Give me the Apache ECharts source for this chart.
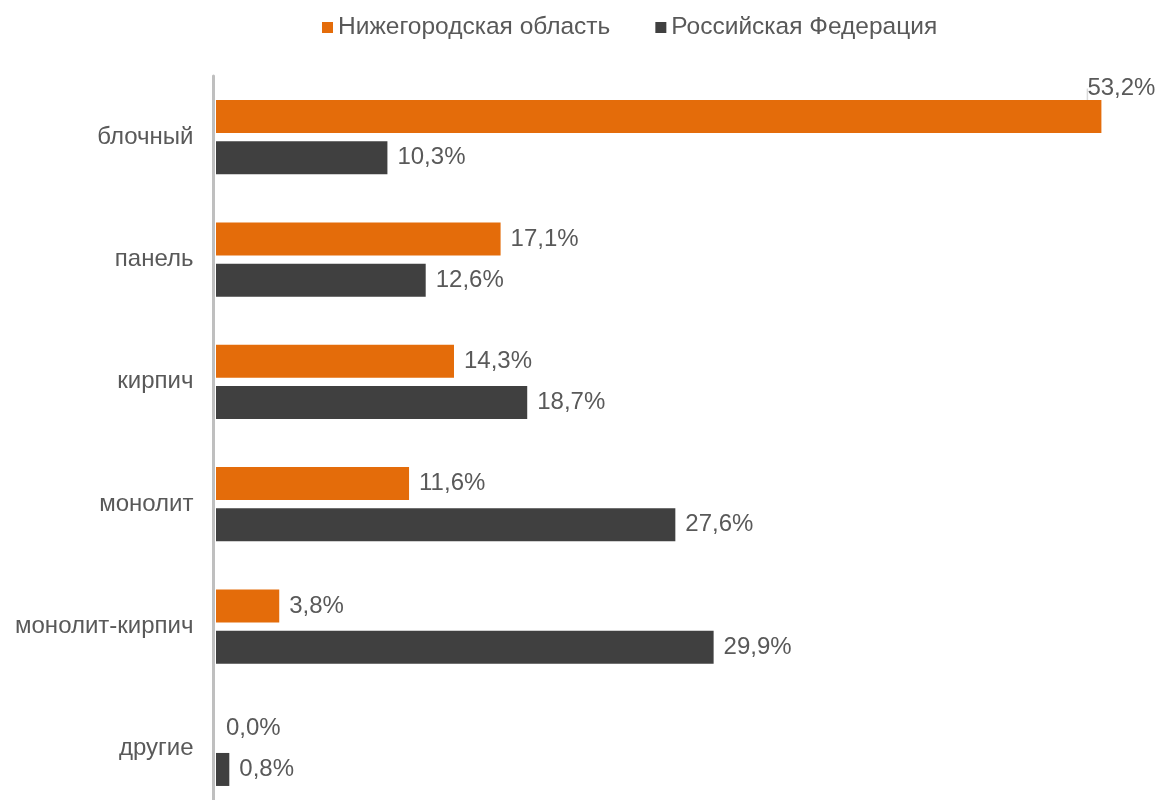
<!DOCTYPE html>
<html>
<head>
<meta charset="utf-8">
<script src="https://cdn.jsdelivr.net/npm/echarts@6/dist/echarts.min.js"></script>
<style>
    html, body { margin: 0; padding: 0; background: #fff; }
    #chart { width: 1159px; height: 800px; }
</style>
</head>
<body>
<div id="chart"></div>
<script>
let categories = ['блочный', 'панель', 'кирпич', 'монолит', 'монолит-кирпич', 'другие']
let regionName = 'Нижегородская область'
let countryName = 'Российская Федерация'
let regionValues = [53.2, 17.1, 14.3, 11.6, 3.8, 0.0]
let countryValues = [10.3, 12.6, 18.7, 27.6, 29.9, 0.8]

let textColor = '#595959'
let fontFamily = '"Liberation Sans", Arial, sans-serif'

function fmt(v) {
    return v.toFixed(1).replace('.', ',') + '%'
}

// только у самого длинного столбца подпись вынесена с выноской
let regionData = regionValues.map((v, i) => ({
    value: v,
    labelLine: { show: i === 0 }
}))

let mychart = echarts.init(document.getElementById('chart'))
let option = {
    backgroundColor: '#ffffff',
    animation: false,
    textStyle: { fontFamily: fontFamily },
    legend: {
        top: 10,
        left: 317,
        itemWidth: 11,
        itemHeight: 11,
        itemGap: 45,
        icon: 'rect',
        textStyle: { color: textColor, fontSize: 24.5, fontFamily: fontFamily },
        data: [regionName, countryName]
    },
    grid: {
        left: 216,
        top: 76,
        width: 932,
        height: 734,
        outerBoundsMode: 'none'
    },
    xAxis: {
        type: 'value',
        min: 0,
        max: 56,
        show: false
    },
    yAxis: {
        type: 'category',
        inverse: true,
        offset: 2.5,
        data: categories,
        axisLine: { show: true, onZero: false, lineStyle: { color: '#bfbfbf', width: 3 } },
        axisTick: { show: false },
        axisLabel: {
            color: textColor,
            fontSize: 24,
            fontFamily: fontFamily,
            margin: 20
        }
    },
    series: [
        {
            name: regionName,
            type: 'bar',
            barWidth: 33,
            barGap: '25%',
            itemStyle: { color: '#e46c0a' },
            label: {
                show: true,
                position: 'right',
                distance: 10,
                color: textColor,
                fontSize: 24,
                fontFamily: fontFamily,
                formatter: p => fmt(p.value)
            },
            labelLine: { show: false, lineStyle: { color: '#d9d9d9', width: 1.5 } },
            labelLayout: function (params) {
                if (params.dataIndex === 0) {
                    return { dx: -24, dy: -28 }
                }
                return {}
            },
            data: regionData
        },
        {
            name: countryName,
            type: 'bar',
            barWidth: 33,
            barGap: '25%',
            itemStyle: { color: '#404040' },
            label: {
                show: true,
                position: 'right',
                distance: 10,
                color: textColor,
                fontSize: 24,
                fontFamily: fontFamily,
                formatter: p => fmt(p.value)
            },
            data: countryValues
        }
    ]
}
mychart.setOption(option)
window.addEventListener('resize', function () {
    mychart.resize()
})
</script>
</body>
</html>
